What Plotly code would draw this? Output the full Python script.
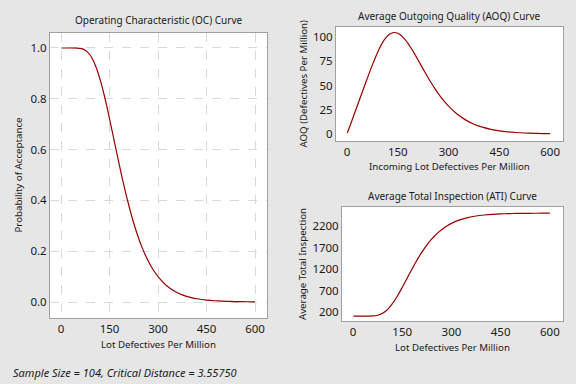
import plotly.graph_objects as go

# Lot defectives per million (x values)
ppm = [1, 10, 25, 50, 60, 75, 90, 100, 110, 125, 135, 140, 150, 160, 165, 175, 180, 190,
       200, 210, 225, 240, 250, 260, 275, 285, 300, 325, 350, 375, 400, 425, 450, 475,
       500, 525, 550, 575, 600]

# Probability of acceptance
prob_accept = [1.0, 1.0, 1.0, 0.9997, 0.9984, 0.9914, 0.9724, 0.9502, 0.9194, 0.8574,
               0.807, 0.7797, 0.7222, 0.662, 0.6318, 0.5716, 0.5418, 0.484, 0.4296,
               0.379, 0.3101, 0.2511, 0.2171, 0.1867, 0.1485, 0.1269, 0.0999, 0.066,
               0.0434, 0.0281, 0.0185, 0.0119, 0.0077, 0.005, 0.0033, 0.0021, 0.0014,
               0.0009, 0.0006]

# Average outgoing quality (defectives per million)
aoq = [0.96, 9.58, 23.96, 47.9, 57.41, 71.26, 83.88, 91.07, 96.93, 102.72, 104.41,
       104.62, 103.82, 101.51, 99.91, 95.87, 93.47, 88.13, 82.35, 76.28, 66.87, 57.76,
       52.02, 46.52, 39.14, 34.66, 28.72, 20.56, 14.56, 10.1, 7.09, 4.85, 3.32, 2.28,
       1.58, 1.06, 0.74, 0.5, 0.35]

# Average total inspection
ati = [104, 104, 104, 104.8, 107.9, 124.7, 170.1, 223.3, 297.1, 445.7, 566.4, 631.8,
       769.6, 913.9, 986.2, 1130.4, 1201.8, 1340.3, 1470.7, 1591.9, 1757.0, 1898.4,
       1979.8, 2052.7, 2144.2, 2195.9, 2260.6, 2341.9, 2396.0, 2432.7, 2455.7, 2471.5,
       2481.6, 2488.0, 2492.1, 2495.0, 2496.6, 2497.8, 2498.6]

x_ticks = [0, 150, 300, 450, 600]
oc_ticks = [0.0, 0.2, 0.4, 0.6, 0.8, 1.0]
aoq_ticks = [0, 25, 50, 75, 100]
ati_ticks = [200, 700, 1200, 1700, 2200]

LINE = "#990000"
FONT = "Noto Sans"
W, H = 576, 384

fig = go.Figure()
for xa, ya, ys in (("x", "y", prob_accept), ("x2", "y2", aoq), ("x3", "y3", ati)):
    fig.add_trace(go.Scatter(x=ppm, y=ys, mode="lines",
                             line=dict(color=LINE, width=1.2, shape="spline", smoothing=0.6),
                             xaxis=xa, yaxis=ya, showlegend=False, hoverinfo="skip"))

def px_x(a, b):
    return [a / W, b / W]

def px_y(top, bottom):
    return [1 - bottom / H, 1 - top / H]

axis_common = dict(showline=True, mirror=True, linecolor="#a0a0a0", linewidth=1,
                   ticks="", zeroline=False, tickfont=dict(family=FONT, size=11.5, color="#1a1a1a"))

fig.update_layout(
    width=W, height=H,
    margin=dict(l=0, r=0, t=0, b=0),
    paper_bgcolor="#e6e6e6",
    plot_bgcolor="white",
    font=dict(family=FONT, size=10, color="#1a1a1a"),
    xaxis=dict(domain=px_x(50, 267), range=[-34, 637], tickvals=x_ticks, showgrid=True,
               gridcolor="#d9d9d9", griddash="dash", anchor="y", **axis_common),
    yaxis=dict(domain=px_y(33, 318), range=[-0.063, 1.059], tickvals=oc_ticks, tickformat=".1f",
               showgrid=True, gridcolor="#d9d9d9", griddash="dash", anchor="x", **axis_common),
    xaxis2=dict(domain=px_x(336, 563), range=[-32.5, 638], tickvals=x_ticks, showgrid=False,
                anchor="y2", **axis_common),
    yaxis2=dict(domain=px_y(27, 141), range=[-7.2, 110.3], tickvals=aoq_ticks, showgrid=False,
                anchor="x2", **axis_common),
    xaxis3=dict(domain=px_x(342, 563), range=[-33.5, 640], tickvals=x_ticks, showgrid=False,
                anchor="y3", **axis_common),
    yaxis3=dict(domain=px_y(207, 321), range=[-10, 2642], tickvals=ati_ticks, showgrid=False,
                anchor="x3", **axis_common),
)

def note(text, x, y, size=10, angle=0, italic=False, xanchor="center"):
    fig.add_annotation(text=("<i>%s</i>" % text) if italic else text,
                       x=x / W, y=1 - y / H, xref="paper", yref="paper",
                       showarrow=False, textangle=angle, xanchor=xanchor, yanchor="middle",
                       font=dict(family=FONT, size=size, color="#1a1a1a"))

note("Operating Characteristic (OC) Curve", 158.5, 20.5, size=10)
note("Average Outgoing Quality (AOQ) Curve", 449.5, 15.5, size=10)
note("Average Total Inspection (ATI) Curve", 452.5, 196, size=10)
note("Lot Defectives Per Million", 158.5, 344, size=9.7)
note("Incoming Lot Defectives Per Million", 449.5, 166, size=9.7)
note("Lot Defectives Per Million", 452.5, 347, size=9.7)
note("Probability of Acceptance", 18, 175.5, size=9.7, angle=-90)
note("AOQ (Defectives Per Million)", 302.5, 84, size=9.7, angle=-90)
note("Average Total Inspection", 302, 264, size=9.7, angle=-90)
note("Sample Size = 104, Critical Distance = 3.55750", 11, 372.5, size=11, italic=True, xanchor="left")

fig.write_html("out.html", config={"displayModeBar": False},
               post_script="document.body.style.margin='0';document.body.style.overflow='hidden';")
